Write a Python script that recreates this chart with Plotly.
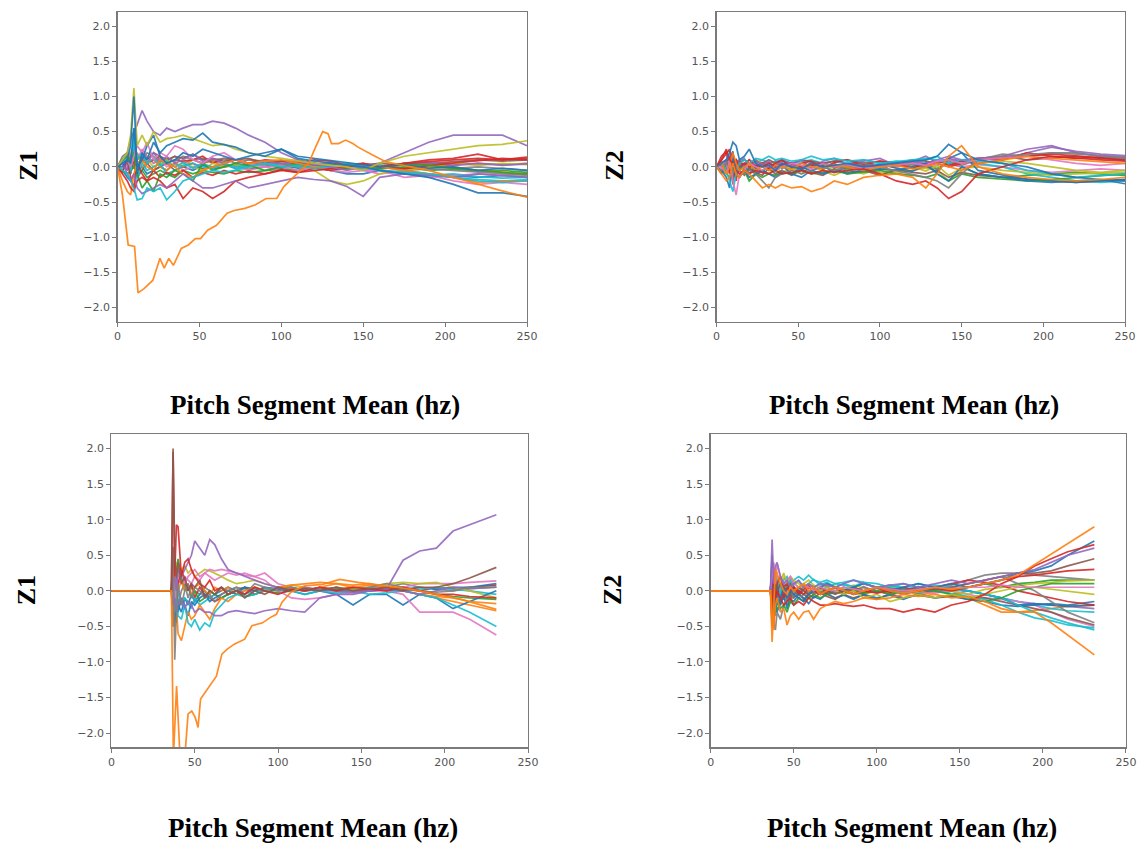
import plotly.graph_objects as go

# ---------------- colours (matplotlib tab10 cycle) ----------------
BLUE, ORANGE, GREEN, RED, PURPLE = "#1f77b4", "#ff7f0e", "#2ca02c", "#d62728", "#9467bd"
BROWN, PINK, GRAY, OLIVE, CYAN = "#8c564b", "#e377c2", "#7f7f7f", "#bcbd22", "#17becf"

X_TICKS = [0, 50, 100, 150, 200, 250]
Y_TICKS = [-2.0, -1.5, -1.0, -0.5, 0.0, 0.5, 1.0, 1.5, 2.0]
X_TITLE = "Pitch Segment Mean (hz)"
Y_TITLES = ["Z1", "Z2", "Z1", "Z2"]

# ---------------- panel 1 (top left, Z1) ----------------
P1_X = [0, 3, 6, 8, 10, 12, 15, 18, 22, 26, 30, 35, 40, 46, 52, 58, 65, 72, 80, 90,
        100, 110, 120, 130, 140, 150, 160, 175, 190, 205, 220, 235, 250]
P1_OLIVE_A = [0, 0.1, 0.2, 0.45, 1.12, 0.3, 0.45, 0.3, 0.5, 0.35, 0.4, 0.42, 0.45, 0.4, 0.35, 0.3, 0.32, 0.25, 0.2, 0.15,
              0.12, 0.08, 0.05, 0.02, 0.0, -0.05, 0.05, 0.15, 0.2, 0.25, 0.3, 0.32, 0.37]
P1_BLUE_A = [0, 0.05, 0.1, 0.3, 1.0, -0.1, 0.2, 0.1, 0.35, 0.2, 0.3, 0.35, 0.4, 0.38, 0.48, 0.35, 0.32, 0.28, 0.2, 0.15,
             0.25, 0.12, 0.08, 0.05, 0.02, 0.0, -0.05, -0.1, -0.15, -0.25, -0.37, -0.37, -0.42]
P1_PURPLE_A = [0, 0.1, 0.2, 0.4, 0.5, 0.6, 0.8, 0.65, 0.5, 0.45, 0.55, 0.5, 0.55, 0.6, 0.6, 0.65, 0.62, 0.55, 0.45, 0.35,
               0.2, 0.1, 0.05, 0.0, -0.05, 0.0, 0.05, 0.2, 0.35, 0.45, 0.45, 0.45, 0.3]
P1_CYAN_A = [0, -0.05, -0.1, -0.2, -0.3, -0.47, -0.45, -0.3, -0.35, -0.3, -0.47, -0.35, -0.2, -0.15, -0.1, -0.05, -0.08, -0.05, 0.0, 0.05,
             0.0, 0.02, -0.02, 0.0, 0.05, 0.0, -0.05, -0.08, -0.1, -0.15, -0.2, -0.22, -0.2]
P1_RED_A = [0, -0.1, -0.2, -0.3, -0.35, -0.2, -0.15, -0.2, -0.15, -0.2, -0.3, -0.25, -0.45, -0.3, -0.35, -0.45, -0.35, -0.2, -0.15, -0.1,
            -0.05, -0.08, -0.05, -0.02, 0.0, 0.05, 0.0, 0.05, 0.08, 0.1, 0.12, 0.1, 0.14]
P1_PURPLE_B = [0, 0.05, -0.1, -0.2, -0.1, -0.3, -0.38, -0.35, -0.3, -0.25, -0.3, -0.2, -0.1, -0.2, -0.3, -0.3, -0.25, -0.2, -0.3, -0.25,
               -0.2, -0.15, -0.18, -0.2, -0.28, -0.42, -0.15, -0.1, -0.12, -0.15, -0.1, -0.12, -0.15]
P1_ORANGE_B = [0, -0.2, -0.35, -0.4, -0.1, 0.05, 0.1, 0.0, -0.05, 0.1, 0.05, 0.0, -0.1, -0.15, -0.05, 0.0, 0.05, 0.1, 0.05, 0.08,
               0.1, 0.05, 0.0, -0.02, 0.05, 0.02, 0.0, -0.05, -0.1, -0.15, -0.22, -0.2, -0.2]
P1_GREEN_A = [0, 0.1, 0.15, 0.05, 0.2, -0.1, -0.3, -0.2, -0.35, -0.1, -0.15, -0.05, -0.1, -0.2, 0.05, -0.05, 0.0, 0.05, 0.02, -0.05,
              0.0, 0.03, 0.0, -0.03, 0.05, 0.02, -0.03, 0.05, 0.02, -0.02, -0.05, -0.08, -0.1]
P1_PINK_A = [0, 0.05, 0.1, 0.0, 0.15, 0.3, 0.2, 0.35, 0.1, 0.2, 0.15, 0.3, 0.25, 0.1, 0.05, 0.15, 0.2, 0.1, 0.05, 0.0,
             0.02, -0.05, 0.0, -0.03, 0.0, -0.05, -0.05, -0.15, -0.12, -0.2, -0.25, -0.22, -0.25]
P1_BROWN_A = [0, 0.1, 0.05, 0.15, 0.2, 0.1, 0.15, 0.1, 0.2, 0.15, 0.1, 0.15, 0.12, 0.18, 0.1, 0.12, 0.08, 0.1, 0.12, 0.05,
              0.08, 0.05, 0.03, 0.05, 0.0, 0.03, 0.05, 0.02, 0.05, 0.08, 0.1, 0.08, 0.1]
P1_GRAY_A = [0, 0.15, 0.2, 0.1, 0.25, 0.05, 0.1, 0.2, 0.15, 0.05, 0.12, 0.08, 0.15, 0.1, 0.05, 0.1, 0.12, 0.05, 0.1, 0.08,
             0.05, 0.02, 0.05, 0.0, 0.03, -0.02, 0.0, -0.05, -0.03, -0.05, -0.08, -0.1, -0.12]
P1_CYAN_B = [0, -0.05, 0.1, -0.1, 0.5, -0.2, 0.05, -0.05, 0.0, 0.05, -0.1, -0.05, 0.02, 0.05, 0.0, -0.03, 0.05, 0.0, 0.03, 0.05,
             0.02, 0.0, 0.05, 0.02, 0.0, -0.03, 0.02, -0.05, -0.1, -0.15, -0.18, -0.2, -0.18]
P1_BLUE_B = [0, 0.0, 0.1, 0.05, 0.55, 0.0, 0.1, 0.3, 0.45, 0.15, 0.05, 0.1, 0.2, 0.15, 0.25, 0.2, 0.15, 0.1, 0.15, 0.2,
             0.25, 0.15, 0.12, 0.08, 0.05, 0.02, 0.0, 0.03, -0.02, 0.0, -0.05, -0.02, -0.05]
P1_RED_B = [0, 0.05, -0.05, 0.1, 0.05, 0.15, 0.1, 0.05, 0.1, 0.15, 0.05, 0.1, 0.08, 0.1, 0.15, 0.05, 0.12, 0.1, 0.05, 0.1,
            0.08, 0.05, 0.1, 0.08, 0.03, 0.05, 0.0, 0.05, 0.1, 0.12, 0.18, 0.1, 0.12]
P1_OLIVE_B = [0, 0.05, 0.1, 0.2, 0.3, 0.15, 0.05, 0.1, 0.0, 0.05, 0.1, 0.0, 0.05, 0.0, -0.05, 0.05, 0.0, 0.03, -0.02, 0.05,
              0.0, 0.02, -0.05, -0.2, -0.25, -0.2, -0.1, -0.05, 0.0, 0.05, 0.02, 0.05, 0.03]
P1_GREEN_B = [0, -0.05, -0.1, -0.05, 0.0, -0.1, -0.05, -0.15, -0.1, -0.05, -0.1, -0.15, -0.05, -0.1, -0.05, -0.08, -0.1, -0.05, -0.08, -0.05,
              -0.03, -0.05, 0.0, -0.05, -0.02, 0.0, -0.03, 0.0, -0.05, -0.03, -0.06, -0.05, -0.08]
P1_PINK_B = [0, 0.1, 0.0, 0.2, 0.05, 0.1, 0.25, 0.15, 0.05, 0.1, 0.0, 0.05, -0.05, 0.0, 0.05, 0.1, 0.05, 0.0, -0.05, 0.0,
             -0.05, 0.05, 0.0, -0.05, -0.08, -0.05, -0.1, -0.05, -0.15, -0.12, -0.1, -0.12, -0.1]
P1_ORANGE_C = [0, 0.05, 0.1, 0.0, 0.15, 0.05, 0.0, 0.05, 0.1, 0.0, -0.05, 0.05, 0.0, 0.1, 0.05, 0.08, 0.0, 0.05, 0.1, 0.05,
               0.08, 0.1, 0.05, 0.02, 0.0, 0.03, 0.0, 0.05, 0.02, 0.0, -0.05, -0.08, -0.1]
P1_BLUE_C = [0, -0.05, -0.15, -0.2, -0.1, -0.05, 0.0, -0.1, -0.05, 0.0, -0.05, 0.05, 0.0, -0.05, 0.02, -0.03, 0.0, 0.02, -0.03, 0.0,
             0.03, -0.02, 0.0, -0.05, -0.1, -0.1, -0.05, -0.08, -0.1, -0.12, -0.15, -0.12, -0.15]
P1_BROWN_B = [0, -0.05, 0.05, -0.1, 0.1, -0.15, -0.05, 0.05, -0.05, 0.0, 0.05, -0.05, 0.0, 0.05, -0.03, 0.0, 0.03, -0.02, 0.0, 0.03,
              -0.02, 0.0, 0.02, 0.0, -0.03, 0.0, 0.02, -0.02, 0.0, 0.03, 0.05, 0.03, 0.05]
P1_GRAY_B = [0, 0.05, 0.2, 0.15, 0.0, 0.2, 0.05, 0.15, 0.05, 0.12, 0.08, 0.15, 0.05, 0.1, 0.12, 0.08, 0.05, 0.1, 0.05, 0.08,
             0.03, 0.05, 0.02, 0.05, 0.0, 0.02, 0.0, 0.03, 0.0, -0.02, 0.0, -0.03, -0.05]
P1_PURPLE_C = [0, 0.08, -0.05, 0.15, 0.25, -0.1, 0.15, 0.05, 0.2, 0.08, 0.15, 0.05, 0.1, 0.18, 0.08, 0.12, 0.05, 0.1, 0.02, 0.08,
               0.04, 0.08, 0.02, 0.06, 0.0, 0.04, -0.02, 0.03, 0.06, 0.02, 0.05, 0.02, 0.04]
P1_RED_C = [0, -0.08, 0.12, -0.15, -0.3, 0.05, -0.1, -0.2, -0.05, -0.15, -0.08, -0.12, -0.05, -0.15, -0.08, -0.12, -0.05, -0.1, -0.06, -0.1,
            -0.04, -0.08, -0.02, -0.05, 0.0, -0.04, 0.0, -0.03, 0.02, 0.05, 0.08, 0.12, 0.1]
P1_CYAN_C = [0, 0.05, 0.15, -0.05, 0.35, 0.1, 0.2, 0.05, 0.12, 0.02, 0.08, 0.0, 0.06, -0.02, 0.04, 0.0, 0.05, -0.03, 0.02, 0.04,
             0.0, 0.03, -0.02, 0.02, 0.0, -0.02, -0.05, -0.1, -0.12, -0.1, -0.14, -0.16, -0.15]
P1_ORANGE_OUT_X = [0, 3, 6.5, 10.4, 12.5, 16.2, 21.6, 25.9, 28.5, 31.3, 34.1, 38.9, 43.2, 47.5, 50.7, 55, 60.4, 66.9, 71.2, 77.7,
                   84.2, 90.7, 97.2, 101.5, 110, 116.6, 120.9, 125.2, 128.5, 130.6, 134.9, 139.2, 143.6, 146.8, 155.4, 164,
                   179, 190, 203, 211.6, 233, 250]
P1_ORANGE_OUT_Y = [0, -0.4, -1.11, -1.13, -1.79, -1.73, -1.61, -1.30, -1.44, -1.30, -1.40, -1.16, -1.11, -1.02, -1.02, -0.90,
                   -0.83, -0.66, -0.62, -0.59, -0.54, -0.45, -0.45, -0.28, -0.09, 0.05, 0.28, 0.50, 0.47, 0.33, 0.33, 0.38,
                   0.33, 0.28, 0.17, 0.07, 0.0, -0.05, -0.14, -0.19, -0.33, -0.43]

# ---------------- panel 2 (top right, Z2) ----------------
P2_X = [0, 3, 6, 8, 10, 12, 14, 17, 20, 24, 28, 32, 36, 40, 46, 52, 58, 65, 72, 80,
        90, 100, 110, 120, 128, 135, 142, 150, 160, 175, 190, 205, 220, 235, 250]
P2_BLUE_A = [0, 0.05, 0.1, 0.2, 0.35, 0.3, 0.1, 0.15, 0.25, 0.05, 0.0, 0.02, -0.05, 0.05, 0.0, -0.03, 0.05, 0.0, 0.02, 0.05,
             0.0, 0.03, 0.05, 0.08, 0.1, 0.15, 0.32, 0.2, 0.1, 0.05, 0.0, -0.1, -0.15, -0.18, -0.24]
P2_RED_A = [0, 0.1, 0.25, 0.1, 0.05, -0.05, -0.1, -0.05, -0.1, -0.05, -0.08, -0.1, -0.05, -0.1, -0.08, -0.05, -0.1, -0.05, -0.08, -0.05,
            -0.03, -0.1, -0.2, -0.25, -0.2, -0.3, -0.45, -0.35, -0.1, 0.0, 0.1, 0.15, 0.12, 0.1, 0.08]
P2_ORANGE_A = [0, -0.1, -0.2, -0.15, 0.05, -0.1, -0.15, -0.05, -0.1, -0.2, -0.3, -0.25, -0.3, -0.25, -0.3, -0.28, -0.35, -0.3, -0.2, -0.25,
               -0.15, -0.12, -0.1, -0.15, -0.3, -0.1, 0.15, 0.3, 0.0, -0.1, -0.15, -0.18, -0.2, -0.18, -0.15]
P2_PINK_A = [0, 0.0, -0.1, 0.1, -0.2, -0.4, -0.1, -0.05, 0.05, 0.0, -0.05, 0.02, -0.05, 0.0, 0.05, 0.02, -0.03, 0.05, 0.0, 0.03,
             -0.02, 0.0, 0.03, 0.05, 0.02, 0.08, 0.1, 0.05, 0.1, 0.12, 0.15, 0.1, 0.05, 0.02, 0.05]
P2_CYAN_A = [0, 0.05, -0.05, -0.2, -0.35, -0.1, 0.05, 0.1, 0.05, 0.12, 0.1, 0.15, 0.1, 0.12, 0.08, 0.1, 0.15, 0.1, 0.12, 0.08,
             0.1, 0.05, 0.08, 0.1, 0.12, 0.1, 0.05, 0.1, 0.08, 0.05, -0.05, -0.1, -0.15, -0.12, -0.1]
P2_PURPLE_A = [0, 0.05, 0.1, 0.15, 0.0, 0.1, 0.05, 0.0, 0.05, 0.02, 0.05, 0.0, 0.03, 0.05, 0.02, 0.0, 0.03, 0.05, 0.0, 0.02,
               0.0, 0.03, 0.05, 0.08, 0.05, 0.1, 0.15, 0.1, 0.12, 0.15, 0.25, 0.3, 0.2, 0.15, 0.12]
P2_GREEN_A = [0, -0.05, -0.1, -0.15, 0.0, -0.1, -0.15, -0.05, -0.2, -0.1, -0.15, -0.1, -0.12, -0.08, -0.1, -0.05, -0.1, -0.08, -0.05, -0.1,
              -0.08, -0.05, -0.1, -0.12, -0.15, -0.1, -0.2, -0.1, -0.15, -0.18, -0.2, -0.18, -0.15, -0.12, -0.1]
P2_BROWN_A = [0, 0.05, 0.1, 0.05, 0.15, 0.0, 0.05, 0.1, 0.05, 0.08, 0.05, 0.1, 0.05, 0.08, 0.05, 0.1, 0.08, 0.05, 0.08, 0.1,
              0.05, 0.08, 0.05, 0.1, 0.08, 0.05, 0.1, 0.08, 0.12, 0.15, 0.1, 0.12, 0.15, 0.12, 0.1]
P2_GRAY_A = [0, -0.05, 0.05, 0.1, -0.1, 0.0, -0.05, -0.1, -0.05, -0.1, -0.2, -0.3, -0.15, -0.1, -0.05, -0.1, -0.05, 0.0, -0.05, 0.0,
             0.05, 0.0, -0.05, -0.1, -0.15, -0.2, -0.3, -0.1, 0.1, 0.15, 0.18, 0.2, 0.2, 0.15, 0.12]
P2_OLIVE_A = [0, 0.0, 0.05, 0.1, 0.15, 0.05, 0.0, 0.05, 0.0, 0.1, 0.05, 0.0, 0.05, 0.02, -0.05, 0.0, 0.05, 0.02, -0.02, 0.0,
              -0.05, -0.08, -0.1, -0.05, -0.02, -0.05, -0.2, -0.05, 0.05, 0.08, 0.05, 0.0, -0.05, -0.08, -0.05]
P2_BLUE_B = [0, -0.05, -0.15, -0.3, 0.1, -0.1, -0.15, -0.05, -0.15, -0.1, -0.05, -0.1, -0.15, -0.08, -0.1, -0.15, -0.05, -0.1, -0.05, -0.08,
             -0.05, -0.03, -0.05, 0.0, 0.05, -0.1, -0.2, 0.0, -0.1, -0.15, -0.2, -0.22, -0.2, -0.18, -0.2]
P2_RED_B = [0, 0.1, 0.2, 0.25, 0.05, 0.1, 0.0, 0.05, 0.0, 0.02, 0.0, 0.05, 0.0, 0.03, 0.05, 0.0, 0.02, 0.05, 0.0, 0.03,
            0.05, 0.0, 0.02, 0.05, 0.03, 0.05, 0.0, 0.05, 0.1, 0.12, 0.15, 0.18, 0.15, 0.12, 0.1]
P2_ORANGE_B = [0, 0.05, -0.1, 0.0, 0.2, 0.05, -0.05, 0.0, 0.05, -0.05, 0.0, -0.05, 0.02, 0.0, -0.03, 0.05, 0.0, -0.02, 0.03, 0.0,
               -0.05, 0.0, 0.02, -0.03, 0.0, 0.05, 0.0, -0.05, 0.05, 0.1, 0.15, 0.12, 0.1, 0.08, 0.05]
P2_PINK_B = [0, 0.05, 0.0, 0.05, 0.1, 0.0, -0.05, 0.05, 0.1, 0.05, 0.0, 0.05, 0.08, 0.05, 0.02, 0.05, 0.0, 0.05, 0.03, 0.0,
             0.05, 0.02, 0.0, 0.05, 0.0, 0.02, 0.05, 0.0, 0.03, 0.0, -0.05, -0.08, -0.05, -0.03, -0.05]
P2_CYAN_B = [0, 0.0, -0.05, 0.05, 0.1, 0.05, 0.0, -0.05, 0.0, 0.05, 0.1, 0.05, 0.08, 0.1, 0.05, 0.08, 0.1, 0.05, 0.08, 0.05,
             0.1, 0.05, 0.08, 0.05, 0.1, 0.15, 0.05, 0.1, 0.05, 0.0, -0.1, -0.15, -0.2, -0.22, -0.2]
P2_GREEN_B = [0, 0.05, 0.0, -0.05, 0.05, 0.1, 0.05, 0.0, -0.05, 0.0, 0.05, -0.02, 0.0, 0.03, 0.0, -0.03, 0.0, 0.05, 0.0, -0.03,
              0.0, 0.02, 0.0, 0.03, 0.0, -0.02, 0.05, 0.0, -0.1, -0.15, -0.12, -0.1, -0.08, -0.1, -0.12]
P2_GRAY_B = [0, 0.08, -0.05, 0.12, -0.15, 0.05, 0.1, -0.05, 0.05, -0.08, 0.05, -0.05, 0.08, -0.03, 0.06, -0.05, 0.07, -0.04, 0.05, -0.06,
             0.04, -0.05, 0.06, -0.02, 0.05, -0.04, 0.08, 0.02, 0.1, 0.18, 0.15, 0.2, 0.18, 0.16, 0.14]
P2_OLIVE_B = [0, -0.08, 0.05, -0.1, 0.12, -0.05, 0.08, -0.1, 0.02, -0.12, -0.05, -0.1, 0.0, -0.08, -0.02, -0.1, 0.02, -0.06, -0.12, -0.04,
              -0.1, -0.02, -0.08, 0.0, -0.06, 0.02, -0.12, -0.02, 0.0, -0.05, -0.08, -0.12, -0.1, -0.09, -0.08]
P2_PURPLE_B = [0, -0.05, 0.1, -0.08, 0.2, -0.15, 0.08, 0.12, -0.02, 0.1, 0.02, 0.08, -0.02, 0.1, 0.04, 0.1, -0.02, 0.08, 0.12, 0.03,
               0.08, 0.12, 0.02, 0.08, 0.15, 0.06, 0.12, 0.08, 0.05, 0.1, 0.2, 0.28, 0.22, 0.18, 0.16]
P2_BROWN_B = [0, -0.1, 0.05, 0.15, -0.25, 0.1, -0.05, -0.12, -0.02, -0.08, -0.12, -0.02, -0.1, -0.05, -0.12, -0.04, -0.08, -0.12, -0.03, -0.1,
              -0.05, -0.12, -0.04, -0.08, -0.1, -0.05, -0.15, -0.08, -0.12, -0.15, -0.18, -0.2, -0.22, -0.2, -0.18]
P2_RED_C = [0, 0.15, 0.22, -0.1, 0.05, -0.2, 0.08, 0.02, 0.1, 0.0, 0.06, -0.03, 0.05, 0.1, -0.02, 0.05, 0.08, -0.02, 0.06, 0.1,
            0.02, 0.08, 0.04, -0.02, 0.05, 0.1, 0.02, 0.08, 0.12, 0.1, 0.2, 0.15, 0.12, 0.14, 0.12]
P2_BLUE_C = [0, 0.02, -0.08, 0.1, 0.22, -0.12, -0.05, 0.05, -0.1, 0.0, -0.08, 0.04, -0.06, 0.02, -0.1, 0.0, -0.06, 0.02, -0.08, 0.0,
             -0.05, 0.04, -0.02, -0.06, 0.02, -0.08, 0.12, 0.2, -0.05, -0.12, -0.18, -0.2, -0.22, -0.2, -0.18]

# ---------------- panel 3 (bottom left, Z1) ----------------
P3_X = [0, 36, 37, 38, 39, 40, 42, 44, 46, 48, 50, 53, 56, 59, 62, 66, 70, 75, 80, 86,
        92, 100, 108, 116, 125, 135, 145, 155, 165, 175, 185, 195, 205, 215, 231]
P3_BROWN_A = [0, 0, 2.0, 0.5, 0.2, 0.4, 0.1, 0.2, 0.0, 0.1, 0.05, 0.15, -0.1, 0.0, -0.05, 0.05, -0.05, 0.0, -0.1, 0.0,
              -0.05, 0.05, 0.0, 0.03, 0.0, 0.05, 0.0, 0.03, 0.05, 0.0, 0.05, 0.05, 0.1, 0.18, 0.33]
P3_RED_A = [0, 0, 1.95, 0.2, 0.93, 0.9, 0.2, 0.4, 0.45, 0.3, 0.2, 0.1, 0.05, 0.15, 0.0, 0.05, -0.05, 0.0, -0.05, 0.05,
            0.0, -0.05, 0.02, 0.0, 0.05, 0.0, 0.05, 0.02, 0.0, 0.05, 0.0, -0.05, -0.05, -0.08, -0.1]
P3_GRAY_A = [0, 0, 0.62, -0.97, -0.3, 0.1, -0.2, 0.0, 0.1, -0.1, 0.05, 0.0, -0.1, -0.05, -0.15, -0.05, 0.0, 0.05, -0.05, 0.1,
             0.05, 0.0, 0.05, 0.0, 0.02, 0.05, 0.0, 0.05, 0.1, 0.05, 0.0, -0.02, 0.0, 0.05, 0.05]
P3_PURPLE_A = [0, 0, 0.1, 0.2, 0.0, 0.3, 0.2, 0.3, 0.4, 0.5, 0.7, 0.6, 0.5, 0.72, 0.65, 0.45, 0.3, 0.25, 0.2, 0.15,
               0.1, 0.05, 0.0, 0.05, 0.02, 0.0, -0.02, 0.0, 0.02, 0.0, -0.05, 0.0, 0.05, 0.03, 0.05]
P3_PURPLE_B = [0, 0, -0.2, -0.1, -0.3, -0.2, -0.1, -0.25, -0.15, -0.2, -0.3, -0.25, -0.3, -0.3, -0.35, -0.35, -0.3, -0.28, -0.3, -0.32,
               -0.28, -0.25, -0.28, -0.3, -0.1, -0.05, -0.05, 0.0, 0.02, 0.43, 0.56, 0.6, 0.84, 0.93, 1.07]
P3_CYAN_A = [0, 0, 0.2, -0.3, -0.1, -0.35, -0.4, -0.2, -0.45, -0.5, -0.4, -0.55, -0.45, -0.5, -0.3, -0.2, -0.1, -0.05, -0.08, -0.05,
             0.0, 0.05, 0.0, -0.05, 0.0, -0.03, 0.0, -0.05, -0.03, 0.0, -0.05, -0.1, -0.2, -0.3, -0.5]
P3_PINK_A = [0, 0, 0.3, -0.2, 0.1, 0.2, 0.25, 0.1, 0.2, 0.25, 0.3, 0.2, 0.25, 0.3, 0.28, 0.3, 0.28, 0.25, 0.22, 0.2,
             0.15, 0.0, -0.1, -0.12, -0.1, -0.05, -0.02, 0.0, 0.0, -0.05, -0.3, -0.3, -0.3, -0.4, -0.62]
P3_ORANGE_B = [0, 0, -0.5, 0.3, -0.2, -0.6, -0.7, -0.5, -0.3, -0.4, -0.35, -0.2, -0.3, -0.4, -0.25, -0.1, -0.15, -0.05, 0.0, 0.05,
               0.0, 0.05, 0.03, 0.0, 0.05, 0.1, 0.05, 0.08, 0.05, 0.0, -0.05, -0.08, -0.1, -0.15, -0.18]
P3_BLUE_A = [0, 0, 0.1, -0.4, 0.2, -0.3, -0.1, -0.2, -0.35, -0.15, -0.2, -0.1, -0.05, -0.15, -0.1, -0.05, 0.0, -0.05, 0.05, 0.0,
             0.05, 0.02, 0.0, -0.05, 0.0, -0.05, -0.2, -0.05, -0.05, -0.2, -0.05, -0.1, -0.25, -0.15, 0.0]
P3_OLIVE_A = [0, 0, 0.3, 0.1, 0.4, 0.2, 0.3, 0.35, 0.25, 0.3, 0.2, 0.25, 0.3, 0.28, 0.25, 0.2, 0.15, 0.1, 0.12, 0.15,
              0.1, 0.05, 0.08, 0.05, 0.0, 0.05, 0.02, 0.05, 0.1, 0.12, 0.1, 0.12, 0.05, 0.0, -0.1]
P3_GREEN_A = [0, 0, 0.4, -0.2, 0.3, 0.45, 0.2, 0.0, 0.1, -0.1, 0.0, -0.15, -0.1, 0.0, -0.05, -0.1, -0.05, 0.0, -0.08, -0.05,
              0.0, -0.03, 0.0, 0.05, 0.0, 0.03, -0.02, 0.0, 0.03, 0.05, 0.0, -0.05, -0.08, -0.1, -0.12]
P3_CYAN_B = [0, 0, -0.3, 0.1, -0.2, 0.0, -0.2, -0.1, -0.15, -0.25, -0.1, -0.2, -0.15, -0.1, -0.05, -0.1, -0.05, 0.0, -0.05, 0.0,
             0.03, 0.0, 0.05, 0.0, 0.02, 0.0, -0.03, 0.0, 0.02, 0.0, 0.03, 0.05, 0.02, 0.0, -0.05]
P3_BLUE_B = [0, 0, -0.5, -0.3, -0.45, -0.2, -0.3, -0.1, -0.2, -0.05, -0.15, -0.05, 0.0, -0.1, -0.05, 0.0, 0.05, 0.0, 0.05, 0.03,
             0.0, 0.05, 0.02, 0.0, 0.05, 0.0, 0.03, 0.05, 0.0, 0.03, 0.05, 0.02, 0.05, 0.05, 0.1]
P3_RED_B = [0, 0, 0.2, 0.5, -0.2, 0.1, 0.3, 0.15, 0.0, 0.1, -0.1, 0.05, -0.05, -0.1, -0.15, -0.1, -0.05, 0.0, 0.05, -0.05,
            0.0, 0.03, 0.05, 0.0, 0.05, 0.02, 0.05, 0.0, 0.05, 0.02, 0.0, 0.05, 0.03, 0.05, 0.08]
P3_PINK_B = [0, 0, 0.1, 0.2, 0.0, 0.15, 0.1, 0.2, 0.15, 0.1, 0.2, 0.15, 0.25, 0.2, 0.15, 0.2, 0.25, 0.22, 0.25, 0.2,
             0.25, 0.1, 0.05, 0.02, 0.0, 0.05, 0.0, 0.03, 0.05, 0.05, 0.1, 0.1, 0.1, 0.12, 0.14]
P3_ORANGE_C = [0, 0, 0.3, -0.1, 0.1, 0.0, 0.15, 0.0, 0.1, -0.05, 0.05, 0.1, 0.0, -0.05, 0.05, 0.0, 0.05, -0.05, 0.0, 0.05,
               0.0, 0.05, 0.08, 0.1, 0.12, 0.1, 0.08, 0.1, 0.05, 0.0, -0.05, -0.1, -0.15, -0.2, -0.28]
P3_GRAY_B = [0, 0, 0.6, -0.5, 0.1, -0.2, 0.0, 0.1, -0.1, 0.05, 0.0, -0.05, 0.05, 0.0, -0.05, 0.05, 0.0, 0.05, 0.03, 0.0,
             0.05, 0.02, 0.0, 0.03, 0.0, 0.05, 0.02, 0.0, 0.05, 0.1, 0.05, 0.02, 0.0, 0.03, 0.05]
P3_ORANGE_OUT_X = [0, 36, 37.2, 39.1, 41.2, 44, 46, 48.2, 50.3, 52, 53.5, 55.6, 58.8, 63, 66.3, 69.5, 73.7, 80, 84.3, 90.7,
                   95, 99, 102.4, 107.7, 116, 126.8, 137, 148, 165, 180, 195, 210, 231]
P3_ORANGE_OUT_Y = [0, 0, -2.35, -1.34, -2.35, -2.35, -1.73, -1.69, -1.78, -1.92, -1.52, -1.45, -1.34, -1.2, -0.89, -0.82,
                   -0.75, -0.68, -0.49, -0.45, -0.38, -0.33, -0.16, -0.02, 0.07, 0.09, 0.16, 0.12, 0.07, 0.02, -0.05, -0.12, -0.26]

# ---------------- panel 4 (bottom right, Z2) ----------------
P4_X = [0, 36, 37, 38, 39, 40, 42, 44, 46, 48, 50, 53, 56, 59, 62, 66, 70, 75, 80, 86,
        92, 100, 108, 116, 125, 135, 145, 155, 165, 175, 185, 195, 205, 215, 231]
P4_ORANGE_B = [0, 0, -0.3, -0.55, -0.2, -0.1, -0.3, -0.25, -0.48, -0.35, -0.3, -0.4, -0.3, -0.28, -0.4, -0.25, -0.2, -0.15, -0.18, -0.15,
               -0.1, -0.12, -0.1, -0.05, -0.08, -0.05, -0.1, -0.08, -0.15, -0.25, -0.3, -0.3, -0.45, -0.62, -0.9]
P4_PURPLE_A = [0, 0, 0.72, 0.1, 0.35, 0.4, 0.2, 0.1, 0.15, 0.05, 0.1, 0.15, 0.05, 0.1, 0.05, 0.1, 0.08, 0.05, 0.1, 0.15,
               0.1, 0.05, 0.08, 0.1, 0.05, 0.1, 0.15, 0.1, 0.15, 0.2, 0.25, 0.3, 0.4, 0.5, 0.6]
P4_PINK_A = [0, 0, 0.2, 0.4, 0.1, 0.38, 0.2, 0.1, 0.15, 0.2, 0.1, 0.05, 0.08, 0.05, 0.0, 0.05, 0.02, 0.0, 0.05, 0.02,
             0.0, 0.05, 0.03, 0.0, 0.02, 0.05, 0.03, 0.05, 0.05, 0.08, 0.05, 0.05, 0.05, 0.05, 0.05]
P4_RED_A = [0, 0, -0.3, 0.2, -0.1, 0.0, -0.1, -0.2, -0.15, -0.1, -0.2, -0.15, -0.2, -0.1, -0.15, -0.2, -0.2, -0.18, -0.2, -0.22,
            -0.2, -0.25, -0.25, -0.3, -0.25, -0.3, -0.2, -0.15, -0.05, 0.1, 0.2, 0.35, 0.45, 0.55, 0.65]
P4_BLUE_A = [0, 0, 0.5, -0.3, 0.1, -0.2, -0.1, 0.05, -0.1, 0.0, -0.05, -0.1, -0.15, -0.05, 0.0, 0.05, 0.1, 0.05, 0.0, 0.05,
             0.1, 0.05, 0.0, 0.05, 0.1, 0.05, 0.1, 0.05, 0.1, 0.15, 0.25, 0.28, 0.35, 0.5, 0.7]
P4_BROWN_A = [0, 0, 0.3, -0.1, 0.2, 0.0, 0.1, 0.0, 0.05, 0.1, 0.0, 0.05, 0.0, -0.05, 0.0, 0.05, 0.0, -0.05, 0.0, 0.05,
              0.0, 0.05, 0.03, 0.0, 0.05, 0.02, 0.05, 0.1, 0.15, 0.2, 0.25, 0.25, 0.28, 0.35, 0.45]
P4_RED_B = [0, 0, 0.1, 0.3, -0.2, 0.1, 0.2, 0.05, 0.1, 0.0, 0.05, 0.0, -0.05, 0.05, 0.0, -0.05, 0.0, 0.05, 0.0, -0.05,
            0.0, -0.03, 0.0, 0.05, 0.0, 0.03, 0.0, 0.05, 0.1, 0.15, 0.2, 0.22, 0.25, 0.28, 0.3]
P4_OLIVE_A = [0, 0, 0.2, -0.3, 0.1, 0.2, 0.15, 0.25, 0.1, 0.2, 0.15, 0.1, 0.05, 0.1, 0.05, 0.0, 0.05, 0.0, -0.05, 0.0,
              -0.1, -0.05, -0.15, -0.1, -0.05, -0.1, -0.05, -0.1, -0.05, 0.0, 0.05, 0.05, 0.02, 0.0, -0.05]
P4_GREEN_A = [0, 0, -0.2, 0.1, -0.3, -0.1, -0.25, -0.2, -0.3, -0.15, -0.2, -0.1, -0.15, -0.1, -0.05, -0.1, -0.05, 0.0, -0.05, 0.0,
              -0.03, 0.0, -0.05, 0.0, 0.03, 0.0, -0.05, -0.1, -0.15, -0.1, 0.0, 0.05, 0.1, 0.1, 0.1]
P4_CYAN_A = [0, 0, -0.1, 0.15, 0.0, 0.1, 0.05, 0.15, 0.2, 0.1, 0.15, 0.2, 0.15, 0.22, 0.15, 0.12, 0.15, 0.1, 0.12, 0.15,
             0.12, 0.1, 0.05, 0.1, 0.05, 0.08, 0.05, 0.0, -0.05, -0.1, -0.2, -0.3, -0.38, -0.45, -0.55]
P4_GRAY_A = [0, 0, -0.2, -0.5, -0.55, -0.3, -0.4, -0.2, -0.1, -0.15, -0.05, -0.1, -0.05, 0.0, -0.05, 0.0, 0.05, 0.0, -0.05, 0.0,
             0.05, 0.0, -0.05, 0.0, 0.05, 0.0, 0.05, 0.1, 0.15, 0.2, 0.1, 0.0, -0.15, -0.3, -0.45]
P4_BLUE_B = [0, 0, 0.3, -0.2, 0.0, -0.3, -0.15, -0.1, -0.2, -0.1, -0.05, 0.0, -0.05, -0.1, -0.05, 0.0, -0.05, -0.02, 0.0, -0.05,
             -0.03, 0.0, 0.03, 0.0, -0.02, 0.0, 0.05, 0.0, -0.05, -0.1, -0.2, -0.18, -0.2, -0.22, -0.2]
P4_PINK_B = [0, 0, 0.1, -0.1, 0.2, 0.0, -0.1, 0.05, -0.05, 0.0, 0.05, -0.05, 0.0, 0.05, 0.0, 0.03, 0.0, -0.03, 0.0, 0.05,
             0.0, -0.03, 0.0, 0.02, 0.0, -0.03, 0.0, -0.05, -0.1, -0.12, -0.15, -0.2, -0.3, -0.4, -0.5]
P4_CYAN_B = [0, 0, 0.0, 0.2, -0.1, 0.05, 0.1, -0.05, 0.0, 0.15, 0.05, 0.0, 0.05, 0.1, 0.05, 0.1, 0.05, 0.1, 0.08, 0.05,
             0.1, 0.05, 0.08, 0.05, 0.1, 0.05, 0.02, 0.0, -0.05, -0.1, -0.15, -0.2, -0.25, -0.28, -0.3]
P4_ORANGE_C = [0, 0, 0.1, 0.2, 0.3, -0.1, 0.0, 0.1, 0.05, -0.1, 0.0, -0.05, 0.0, -0.1, -0.05, 0.0, -0.05, -0.1, -0.05, 0.0,
               -0.05, 0.0, -0.03, 0.0, -0.05, -0.02, 0.0, -0.1, -0.2, -0.3, -0.3, -0.28, -0.25, -0.22, -0.2]
P4_GREEN_B = [0, 0, -0.1, 0.0, 0.15, 0.05, -0.1, 0.0, 0.05, 0.0, -0.05, 0.05, 0.0, -0.05, 0.0, 0.05, 0.0, -0.03, 0.0, 0.03,
              0.0, 0.05, 0.0, -0.03, 0.0, 0.05, 0.0, 0.05, 0.1, 0.05, 0.1, 0.12, 0.15, 0.15, 0.15]
P4_PURPLE_B = [0, 0, -0.4, 0.2, -0.1, 0.05, -0.05, 0.0, -0.1, -0.05, 0.0, 0.05, 0.0, -0.05, 0.05, 0.0, -0.05, 0.0, 0.05, 0.0,
               -0.05, 0.05, 0.0, -0.05, 0.0, 0.05, -0.05, 0.0, -0.05, -0.1, -0.15, -0.18, -0.2, -0.22, -0.25]
P4_GRAY_B = [0, 0, 0.25, -0.35, 0.15, -0.1, 0.12, -0.05, 0.08, -0.08, 0.05, -0.06, 0.08, -0.04, 0.06, -0.05, 0.06, -0.03, 0.05, -0.04,
             0.06, -0.03, 0.05, -0.02, 0.06, 0.0, 0.08, 0.15, 0.22, 0.25, 0.25, 0.22, 0.2, 0.18, 0.15]
P4_BROWN_B = [0, 0, -0.5, 0.1, -0.3, -0.1, -0.2, 0.05, -0.15, -0.05, -0.1, -0.02, -0.12, -0.05, -0.1, -0.03, -0.08, -0.12, -0.05, -0.1,
              -0.06, -0.12, -0.04, -0.1, -0.06, -0.1, -0.08, -0.12, -0.1, -0.15, -0.2, -0.25, -0.3, -0.38, -0.48]
P4_OLIVE_B = [0, 0, 0.15, 0.25, -0.05, 0.2, 0.08, 0.2, 0.12, 0.05, 0.12, 0.05, 0.1, 0.15, 0.08, 0.04, 0.1, 0.06, 0.02, 0.08,
              0.04, 0.0, 0.06, 0.02, -0.02, 0.04, 0.0, -0.05, 0.02, 0.05, 0.08, 0.1, 0.12, 0.14, 0.15]
P4_BLUE_C = [0, 0, -0.25, 0.1, -0.35, 0.05, -0.2, -0.05, -0.25, -0.12, -0.15, -0.05, -0.1, -0.18, -0.08, -0.12, -0.04, -0.1, -0.06, -0.12,
             -0.05, -0.1, -0.06, -0.12, -0.04, -0.1, -0.06, -0.12, -0.15, -0.2, -0.22, -0.2, -0.18, -0.2, -0.15]
P4_RED_C = [0, 0, 0.4, -0.5, 0.25, -0.05, 0.1, -0.1, 0.05, -0.02, 0.06, -0.04, 0.02, 0.08, -0.02, 0.04, -0.03, 0.05, -0.04, 0.02,
            -0.03, 0.04, -0.02, 0.03, 0.0, 0.05, 0.1, 0.15, 0.12, 0.08, 0.0, -0.05, -0.1, -0.15, -0.2]
P4_CYAN_C = [0, 0, 0.3, -0.15, 0.1, 0.2, -0.05, 0.12, 0.05, 0.18, 0.08, 0.14, 0.06, 0.1, 0.16, 0.08, 0.12, 0.05, 0.1, 0.06,
             0.12, 0.04, 0.08, 0.02, 0.06, 0.0, -0.04, -0.08, -0.12, -0.2, -0.3, -0.38, -0.42, -0.48, -0.52]
P4_ORANGE_A = [0, 0, -0.72, -0.2, 0.3, 0.25, 0.1, 0.0, -0.05, 0.05, 0.0, 0.05, 0.1, 0.0, 0.05, -0.05, 0.0, 0.05, 0.0, -0.05,
               0.0, 0.05, 0.0, -0.03, 0.0, 0.05, 0.02, 0.05, 0.1, 0.15, 0.22, 0.37, 0.52, 0.67, 0.9]

# ---------------- series tables built from the arrays ----------------
PANELS = [
    (P1_X, [(BLUE, P1_BLUE_C), (GRAY, P1_GRAY_B), (BROWN, P1_BROWN_B), (GREEN, P1_GREEN_B), (PINK, P1_PINK_B),
            (ORANGE, P1_ORANGE_C), (RED, P1_RED_B), (GRAY, P1_GRAY_A), (BROWN, P1_BROWN_A), (OLIVE, P1_OLIVE_B),
            (CYAN, P1_CYAN_B), (PURPLE, P1_PURPLE_C), (RED, P1_RED_C), (CYAN, P1_CYAN_C),
            (GREEN, P1_GREEN_A), (PINK, P1_PINK_A), (ORANGE, P1_ORANGE_B), (RED, P1_RED_A),
            (PURPLE, P1_PURPLE_B), (CYAN, P1_CYAN_A), (PURPLE, P1_PURPLE_A), (BLUE, P1_BLUE_B), (OLIVE, P1_OLIVE_A),
            (BLUE, P1_BLUE_A)],
     [(ORANGE, P1_ORANGE_OUT_X, P1_ORANGE_OUT_Y)]),
    (P2_X, [(GREEN, P2_GREEN_B), (PINK, P2_PINK_B), (CYAN, P2_CYAN_B), (BROWN, P2_BROWN_A), (OLIVE, P2_OLIVE_A),
            (GRAY, P2_GRAY_B), (OLIVE, P2_OLIVE_B), (PURPLE, P2_PURPLE_B), (BROWN, P2_BROWN_B), (RED, P2_RED_C),
            (BLUE, P2_BLUE_C),
            (GREEN, P2_GREEN_A), (PURPLE, P2_PURPLE_A), (RED, P2_RED_B), (BLUE, P2_BLUE_B), (GRAY, P2_GRAY_A),
            (CYAN, P2_CYAN_A), (PINK, P2_PINK_A), (ORANGE, P2_ORANGE_B), (RED, P2_RED_A), (BLUE, P2_BLUE_A),
            (ORANGE, P2_ORANGE_A)],
     []),
    (P3_X, [(GRAY, P3_GRAY_B), (PINK, P3_PINK_B), (RED, P3_RED_B), (BLUE, P3_BLUE_B), (CYAN, P3_CYAN_B),
            (GREEN, P3_GREEN_A), (OLIVE, P3_OLIVE_A), (ORANGE, P3_ORANGE_C), (BLUE, P3_BLUE_A), (ORANGE, P3_ORANGE_B),
            (PINK, P3_PINK_A), (CYAN, P3_CYAN_A), (PURPLE, P3_PURPLE_B), (PURPLE, P3_PURPLE_A), (GRAY, P3_GRAY_A),
            (RED, P3_RED_A), (BROWN, P3_BROWN_A)],
     [(ORANGE, P3_ORANGE_OUT_X, P3_ORANGE_OUT_Y)]),
    (P4_X, [(PURPLE, P4_PURPLE_B), (GREEN, P4_GREEN_B), (ORANGE, P4_ORANGE_C), (CYAN, P4_CYAN_B), (PINK, P4_PINK_B),
            (BLUE, P4_BLUE_B), (GRAY, P4_GRAY_B), (BROWN, P4_BROWN_B), (OLIVE, P4_OLIVE_B), (BLUE, P4_BLUE_C),
            (RED, P4_RED_C), (CYAN, P4_CYAN_C),
            (GRAY, P4_GRAY_A), (CYAN, P4_CYAN_A), (GREEN, P4_GREEN_A), (OLIVE, P4_OLIVE_A),
            (RED, P4_RED_B), (BROWN, P4_BROWN_A), (BLUE, P4_BLUE_A), (RED, P4_RED_A), (PINK, P4_PINK_A),
            (PURPLE, P4_PURPLE_A), (ORANGE, P4_ORANGE_B), (ORANGE, P4_ORANGE_A)],
     []),
]

# ---------------- layout geometry (paper fractions) ----------------
X_DOMAINS = [[0.1002, 0.4617], [0.6289, 0.9895], [0.0948, 0.4625], [0.6237, 0.9902]]
Y_DOMAINS = [[0.6184, 0.9858], [0.6184, 0.9858], [0.1135, 0.4848], [0.1135, 0.4848]]
XTITLE_POS = [(0.2744, 0.5196), (0.8028, 0.5196), (0.2727, 0.0178), (0.8014, 0.0178)]
YTITLE_POS = [(0.0209, 0.8030), (0.5388, 0.8040), (0.0196, 0.3001), (0.5366, 0.3001)]

fig = go.Figure()
for i, (xgrid, series, extras) in enumerate(PANELS):
    xa = "x" if i == 0 else f"x{i + 1}"
    ya = "y" if i == 0 else f"y{i + 1}"
    traces = [(c, xgrid, ys) for c, ys in series] + list(extras)
    for c, xs, ys in traces:
        assert len(xs) == len(ys), (i, len(xs), len(ys))
        fig.add_trace(go.Scatter(x=xs, y=ys, mode="lines", xaxis=xa, yaxis=ya,
                                 line=dict(color=c, width=1.7), opacity=0.9,
                                 hoverinfo="skip", showlegend=False))

axis_common = dict(showline=True, linecolor="#7a7a7a", linewidth=1.3, mirror=True,
                   ticks="outside", ticklen=4, tickwidth=1, tickcolor="#7a7a7a",
                   showgrid=False, zeroline=False,
                   tickfont=dict(family="DejaVu Sans", size=11, color="#555555"))
layout = dict(width=1148, height=843, margin=dict(l=0, r=0, t=0, b=0), autosize=False,
              paper_bgcolor="white", plot_bgcolor="white", showlegend=False)
for i in range(4):
    xk = "xaxis" if i == 0 else f"xaxis{i + 1}"
    yk = "yaxis" if i == 0 else f"yaxis{i + 1}"
    ya = "y" if i == 0 else f"y{i + 1}"
    xa = "x" if i == 0 else f"x{i + 1}"
    layout[xk] = dict(domain=X_DOMAINS[i], anchor=ya, range=[0, 250], tickvals=X_TICKS, **axis_common)
    layout[yk] = dict(domain=Y_DOMAINS[i], anchor=xa, range=[-2.2, 2.2], tickvals=Y_TICKS,
                      tickformat=".1f", **axis_common)
fig.update_layout(**layout)

xtitle_font = dict(family="Liberation Serif, Times New Roman, serif", size=27, color="black")
ytitle_font = dict(family="Liberation Serif, Times New Roman, serif", size=26, color="black")
for i in range(4):
    fx, fy = XTITLE_POS[i]
    fig.add_annotation(x=fx, y=fy, xref="paper", yref="paper", text=f"<b>{X_TITLE}</b>",
                       showarrow=False, xanchor="center", yanchor="middle", font=xtitle_font)
    gx, gy = YTITLE_POS[i]
    fig.add_annotation(x=gx, y=gy, xref="paper", yref="paper", text=f"<b>{Y_TITLES[i]}</b>",
                       showarrow=False, xanchor="center", yanchor="middle", textangle=-90, font=ytitle_font)

fig.write_html("out.html", config={"displayModeBar": False, "staticPlot": True},
               post_script="document.body.style.margin='0';document.body.style.overflow='hidden';")
